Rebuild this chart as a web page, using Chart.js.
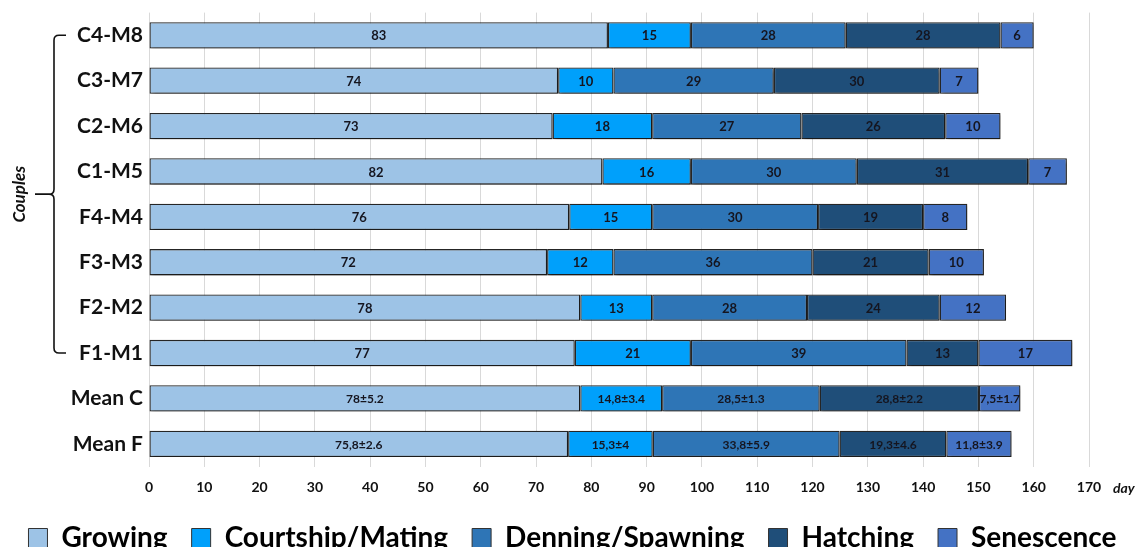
<!DOCTYPE html>
<html>
<head>
<meta charset="utf-8">
<script src="https://cdn.jsdelivr.net/npm/chart.js@4"></script>
<style>
  html, body { margin: 0; padding: 0; background: #fff; overflow: hidden; }
  #wrap { width: 1145px; height: 568px; margin-top: -6px; }
</style>
</head>
<body>
<div id="wrap"><canvas id="phases"></canvas></div>
<script>
// couples from top to bottom, then the two means
const categories = ["C4-M8", "C3-M7", "C2-M6", "C1-M5", "F4-M4", "F3-M3", "F2-M2", "F1-M1", "Mean C", "Mean F"];
const phaseNames = ["Growing", "Courtship/Mating", "Denning/Spawning", "Hatching", "Senescence"];
const phaseColors = ["#9dc3e6", "#00a0fb", "#2e75b6", "#1f4e79", "#4472c4"];

// days per phase
const growing    = [83, 74, 73, 82, 76, 72, 78, 77, 78, 75.8];
const courtship  = [15, 10, 18, 16, 15, 12, 13, 21, 14.8, 15.3];
const denning    = [28, 29, 27, 30, 30, 36, 28, 39, 28.5, 33.8];
const hatching   = [28, 30, 26, 31, 19, 21, 24, 13, 28.8, 19.3];
const senescence = [6, 7, 10, 7, 8, 10, 12, 17, 7.5, 11.8];

// standard deviations, only for the mean rows
const sdGrowing    = [null, null, null, null, null, null, null, null, 5.2, 2.6];
const sdCourtship  = [null, null, null, null, null, null, null, null, 3.4, 4];
const sdDenning    = [null, null, null, null, null, null, null, null, 1.3, 5.9];
const sdHatching   = [null, null, null, null, null, null, null, null, 2.2, 4.6];
const sdSenescence = [null, null, null, null, null, null, null, null, 1.7, 3.9];

const xTicks = [0, 10, 20, 30, 40, 50, 60, 70, 80, 90, 100, 110, 120, 130, 140, 150, 160, 170];

const series = [growing, courtship, denning, hatching, senescence];
const sds = [sdGrowing, sdCourtship, sdDenning, sdHatching, sdSenescence];

const FONT = "Lato, 'Open Sans', sans-serif";

function labelFor(v, sd) {
    let s = String(v).replace(".", ",");
    if (sd !== null && sd !== undefined) s += "\u00b1" + String(sd);
    return s;
}

// drop shadow under the bars
const shadowPlugin = {
    id: "shadow",
    beforeDatasetsDraw(chart) {
        const ctx = chart.ctx;
        ctx.save();
        ctx.shadowColor = "rgba(0,0,0,0.4)";
        ctx.shadowBlur = 3;
        ctx.shadowOffsetX = 2;
        ctx.shadowOffsetY = 2;
    },
    afterDatasetsDraw(chart) {
        chart.ctx.restore();
    }
};

// value labels in the middle of each segment
const valuePlugin = {
    id: "values",
    afterDatasetsDraw(chart) {
        const ctx = chart.ctx;
        ctx.save();
        ctx.fillStyle = "#15151f";
        ctx.textAlign = "center";
        ctx.textBaseline = "middle";
        chart.data.datasets.forEach((ds, i) => {
            const meta = chart.getDatasetMeta(i);
            meta.data.forEach((bar, j) => {
                const sd = sds[i][j];
                ctx.font = (sd !== null ? "bold 12px " : "bold 13px ") + FONT;
                const cx = (bar.x + bar.base) / 2;
                ctx.fillText(labelFor(ds.data[j], sd), cx, bar.y + 1);
            });
        });
        ctx.restore();
    }
};

// brace and "Couples" on the left, plus the "day" unit
const extrasPlugin = {
    id: "extras",
    afterDraw(chart) {
        const ctx = chart.ctx;
        const y = chart.scales.y;
        const x = chart.scales.x;
        const top = y.getPixelForValue(0);
        const bot = y.getPixelForValue(7);
        const mid = (top + bot) / 2;
        const xv = 54, xr = 66, r = 5;
        ctx.save();
        ctx.strokeStyle = "#111";
        ctx.lineWidth = 1.6;
        ctx.beginPath();
        ctx.moveTo(xr, top);
        ctx.lineTo(xv + r, top);
        ctx.quadraticCurveTo(xv, top, xv, top + r);
        ctx.lineTo(xv, mid - r);
        ctx.quadraticCurveTo(xv, mid, xv - r, mid);
        ctx.quadraticCurveTo(xv, mid, xv, mid + r);
        ctx.lineTo(xv, bot - r);
        ctx.quadraticCurveTo(xv, bot, xv + r, bot);
        ctx.lineTo(xr, bot);
        ctx.moveTo(xv - r, mid);
        ctx.lineTo(35, mid);
        ctx.stroke();

        ctx.fillStyle = "#111";
        ctx.font = "italic bold 17px " + FONT;
        ctx.textAlign = "center";
        ctx.textBaseline = "middle";
        ctx.translate(20, mid);
        ctx.rotate(-Math.PI / 2);
        ctx.fillText("Couples", 0, 0);
        ctx.restore();

        ctx.save();
        ctx.fillStyle = "#111";
        ctx.font = "italic bold 14px " + FONT;
        ctx.textAlign = "left";
        ctx.textBaseline = "middle";
        ctx.fillText("day", x.right + 24, x.top + 22);
        ctx.restore();
    }
};

new Chart(document.getElementById("phases"), {
    type: "bar",
    data: {
        labels: categories,
        datasets: series.map((vals, i) => ({
            label: phaseNames[i],
            data: vals,
            backgroundColor: phaseColors[i],
            borderColor: "#262626",
            borderWidth: 1.3,
            borderSkipped: false,
            barPercentage: 0.58,
            categoryPercentage: 1
        }))
    },
    options: {
        indexAxis: "y",
        responsive: true,
        maintainAspectRatio: false,
        animation: false,
        layout: { padding: { top: 0, right: 0, left: 0, bottom: 0 } },
        scales: {
            x: {
                stacked: true,
                min: 0,
                max: 170,
                afterBuildTicks(axis) {
                    axis.ticks = xTicks.map(v => ({ value: v }));
                },
                grid: { color: "#d9d9d9", drawTicks: false },
                border: { display: false },
                ticks: {
                    padding: 13,
                    color: "#111",
                    font: { family: FONT, weight: "bold", size: 14 }
                },
                afterFit(axis) { axis.height = 33.5; }
            },
            y: {
                stacked: true,
                grid: { display: false, drawTicks: false },
                border: { display: false },
                ticks: {
                    padding: 6,
                    color: "#111",
                    font: { family: FONT, weight: "bold", size: 21 }
                },
                afterFit(axis) { axis.width = 149; }
            },
            // empty strip on the right where the "day" label sits
            gutter: {
                type: "linear",
                axis: "y",
                position: "right",
                grid: { display: false, drawTicks: false },
                border: { display: false },
                ticks: { display: false },
                afterFit(axis) { axis.width = 56; }
            }
        },
        plugins: {
            tooltip: { enabled: false },
            legend: {
                position: "bottom",
                labels: {
                    boxWidth: 19,
                    boxHeight: 19,
                    padding: 24,
                    color: "#111",
                    font: { family: FONT, weight: "bold", size: 28 },
                    generateLabels(chart) {
                        return chart.data.datasets.map((ds, i) => ({
                            text: ds.label,
                            fillStyle: ds.backgroundColor,
                            strokeStyle: "#333",
                            lineWidth: 1,
                            datasetIndex: i
                        }));
                    }
                }
            }
        }
    },
    plugins: [shadowPlugin, valuePlugin, extrasPlugin]
});
</script>
</body>
</html>
